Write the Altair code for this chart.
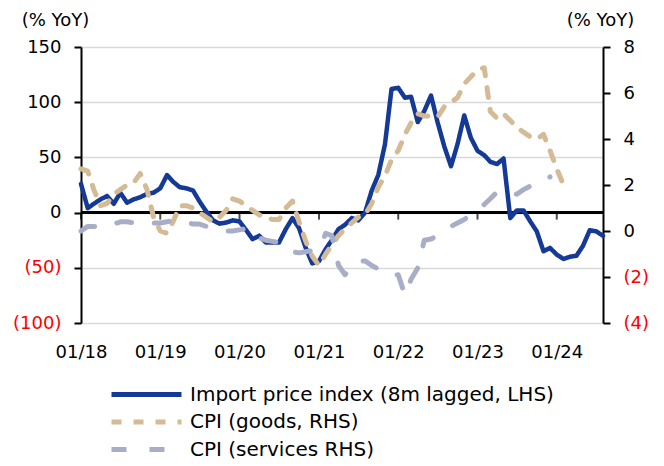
import altair as alt
import pandas as pd

FONT = "DejaVu Sans"

# Monthly data, Jan 2018 onwards
import_price = [
    26, 4, 8, 12, 15, 8, 18, 9, 12, 14, 17, 18,            # 2018
    22, 34, 28, 23, 22, 20, 10, 1, -7, -10, -9, -7,        # 2019
    -8, -16, -24, -21, -27, -27, -27, -15, -5, -14, -32, -46,  # 2020
    -44, -33, -25, -15, -11, -5, -7, 0, 20, 34, 62, 112,   # 2021
    113, 104, 105, 82, 92, 106, 82, 60, 42, 62, 88, 68,    # 2022
    56, 52, 46, 44, 49, -5, 2, 2, -8, -17, -35, -32,       # 2023
    -38, -42, -40, -39, -30, -16, -17, -21,                # 2024
]
cpi_goods = [
    2.7, 2.6, 1.8, 1.1, 1.2, 1.6, 1.8, 2.0, 2.1, 2.5, 1.8, 0.6,
    0.0, -0.1, 0.4, 1.1, 1.1, 1.0, 0.8, 0.6, 0.4, 0.6, 0.9, 1.4,
    1.3, 1.1, 0.9, 0.7, 0.6, 0.5, 0.5, 1.0, 1.3, 0.4, -0.45, -1.1,
    -1.5, -1.0, -0.6, -0.2, 0.1, 0.35, 0.6, 0.7, 1.2, 1.9, 2.4, 3.1,
    3.5, 4.2, 4.7, 5.1, 5.0, 5.0, 4.95, 5.4, 5.6, 5.8, 6.4, 6.7,
    7.0, 7.1, 5.2, 4.9, 5.1, 4.8, 4.5, 4.3, 4.1, 4.0, 4.2, 3.5,
    2.7, 2.0,
]
cpi_services = [
    0.0, 0.2, 0.2, 0.15, 0.2, 0.3, 0.4, 0.4, 0.35, 0.3, 0.3, 0.35,
    0.35, 0.4, 0.45, 0.5, 0.4, 0.3, 0.3, 0.2, 0.1, 0.05, 0.0, 0.0,
    0.05, 0.1, 0.1, -0.3, -0.4, -0.45, -0.5, -0.8, -0.9, -0.95, -0.9, -0.85,
    -0.8, -0.1, -0.2, -1.5, -1.9, -1.5, -1.3, -1.3, -1.5, -1.65, -1.8, -1.95,
    -1.9, -2.8, -2.1, -1.6, -0.4, -0.35, -0.2, 0.0, 0.2, 0.35, 0.5, 0.7,
    0.95, 1.15, 1.4, 1.7, 1.75, 1.65, 1.6, 1.8, 1.95, 2.05, 2.2, 2.35,
]

names = [
    "Import price index (8m lagged, LHS)",
    "CPI (goods, RHS)",
    "CPI (services RHS)",
]
colors = ["#143a96", "#d5ba96", "#a9aec8"]
dashes = [[1, 0], [10, 12], [15, 23]]
tick_years = [2018, 2019, 2020, 2021, 2022, 2023, 2024]
left_vals = [-100, -50, 0, 50, 100, 150]
right_vals = [-4, -2, 0, 2, 4, 6, 8]

months = pd.date_range("2018-01-01", periods=len(import_price), freq="MS")
rows = []
for name, series in zip(names, [import_price, cpi_goods, cpi_services]):
    for i, v in enumerate(series):
        rows.append({"date": months[i], "series": name, "value": v})
df = pd.DataFrame(rows)
ticks_df = pd.DataFrame({"date": [pd.Timestamp(year=y, month=1, day=1) for y in tick_years]})

year_ticks = [alt.DateTime(year=y, month=1, date=1) for y in tick_years]
x_scale = alt.Scale(domain=[alt.DateTime(year=2018, month=1, date=1),
                            alt.DateTime(year=2024, month=8, date=1)])
left_scale = alt.Scale(domain=[left_vals[0], left_vals[-1]], nice=False, zero=False)
right_scale = alt.Scale(domain=[right_vals[0], right_vals[-1]], nice=False, zero=False)

label_neg = "datum.value < 0 ? '(' + format(-datum.value, ',') + ')' : format(datum.value, ',') + '\u00a0'"
red_neg = alt.condition("datum.value < 0", alt.value("#ff0000"), alt.value("#000000"))

x_axis = alt.Axis(
    orient="bottom", values=year_ticks, format="%m/%y", title=None,
    domain=False, ticks=False, grid=False, labelPadding=20, labelFlush=False,
    labelFont=FONT, labelFontSize=18, labelColor="#000000")

color_enc = alt.Color(
    "series:N",
    scale=alt.Scale(domain=names, range=colors),
    legend=alt.Legend(
        title=None, orient="none", legendX=53, legendY=335, direction="vertical",
        symbolType="M-3.5,0L3.5,0", symbolSize=400, symbolStrokeWidth=5,
        labelFont=FONT, labelFontSize=20, labelColor="#000000", labelOffset=31,
        labelLimit=500, rowPadding=4.5, padding=0,
    ),
)
dash_enc = alt.StrokeDash("series:N", scale=alt.Scale(domain=names, range=dashes), legend=None)

base = alt.Chart(df)

zero_line = alt.Chart(ticks_df).mark_rule(color="#000000", strokeWidth=2).encode(
    y=alt.YDatum(0, scale=left_scale),
)
zero_ticks = alt.Chart(ticks_df).mark_tick(
    orient="vertical", size=7, thickness=2, color="#000000", yOffset=3.5
).encode(
    x=alt.X("date:T", scale=x_scale, axis=x_axis),
    y=alt.YDatum(0, scale=left_scale),
)

blue = base.transform_filter(alt.datum.series == names[0]).mark_line(
    strokeWidth=4.5, strokeJoin="round", strokeCap="round"
).encode(
    x=alt.X("date:T", scale=x_scale, axis=x_axis),
    y=alt.Y("value:Q", scale=left_scale,
            axis=alt.Axis(
                orient="left", values=left_vals, labelExpr=label_neg, labelColor=red_neg,
                labelFont=FONT, labelFontSize=18, labelPadding=13,
                domain=True, domainColor="#000000", domainWidth=2,
                ticks=True, tickColor="#000000", tickWidth=2, tickSize=7,
                grid=True, gridColor="#d9d9d9", gridWidth=1.5,
                title="(% YoY)", titleAngle=0, titleX=-26, titleY=-27,
                titleAlign="center", titleBaseline="middle",
                titleFont=FONT, titleFontSize=18, titleFontWeight="normal",
                titleColor="#000000")),
    color=color_enc,
    strokeDash=dash_enc,
)

lhs = alt.layer(zero_line, zero_ticks, blue)

rhs = base.transform_filter(alt.datum.series != names[0]).mark_line(
    strokeWidth=5, strokeJoin="round", strokeCap="round"
).encode(
    x=alt.X("date:T", scale=x_scale, axis=x_axis),
    y=alt.Y("value:Q", scale=right_scale,
            axis=alt.Axis(
                orient="right", values=right_vals, labelExpr=label_neg, labelColor=red_neg,
                labelFont=FONT, labelFontSize=18, labelPadding=13,
                domain=True, domainColor="#000000", domainWidth=2,
                ticks=True, tickColor="#000000", tickWidth=2, tickSize=7, grid=False,
                title="(% YoY)", titleAngle=0, titleX=-3, titleY=-27,
                titleAlign="center", titleBaseline="middle",
                titleFont=FONT, titleFontSize=18, titleFontWeight="normal",
                titleColor="#000000")),
    color=color_enc,
    strokeDash=dash_enc,
)

chart = alt.layer(lhs, rhs).resolve_scale(y="independent").properties(
    width=522, height=276,
    padding={"left": 73, "top": 39, "right": 53, "bottom": 142},
    autosize="none",
    background="#ffffff",
).configure_view(stroke=None)

chart.save("out.html", embed_options={"renderer": "svg", "actions": False})
